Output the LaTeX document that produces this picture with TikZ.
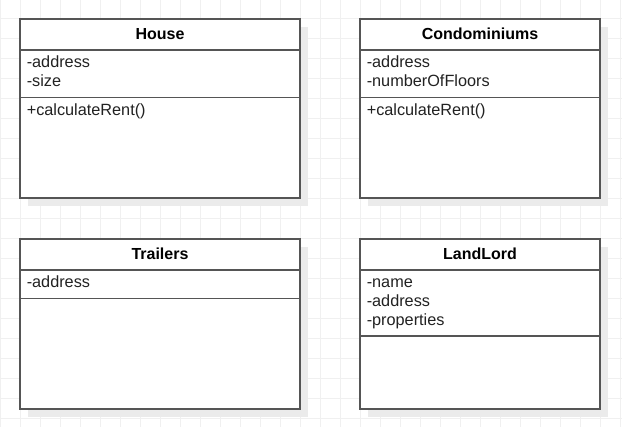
\documentclass[tikz,border=0pt]{standalone}
\usepackage{fontspec}
\setmainfont{Liberation Sans}
\usepackage{tikz}
\usetikzlibrary{positioning}
\usepackage{xcolor}
\definecolor{umlline}{HTML}{555555}
\definecolor{gridgray}{HTML}{F0F0F0}
\definecolor{shadowgray}{HTML}{EBEBEB}
\definecolor{membertext}{HTML}{222222}

\tikzset{
  gridline/.style={gridgray, line width=0.75pt},
  classshadow/.style={fill=shadowgray},
  classbox/.style={draw=umlline, line width=1.1pt, fill=white},
  classrule/.style={draw=umlline, line width=1.1pt},
  classname/.style={anchor=base, inner sep=0pt, font=\bfseries\fontsize{12}{14}\selectfont},
  member/.style={anchor=base west, inner sep=0pt, text=membertext, font=\fontsize{12.2}{14}\selectfont}
}

\begin{document}
\begin{tikzpicture}[x=0.75pt, y=-0.75pt]
\fill[white] (0,0) rectangle (622,427);
\useasboundingbox (0,0) rectangle (622,427);
% grid
\foreach \gx in {0.5,20.5,...,620.5} \draw[gridline] (\gx,0) -- (\gx,427);
\foreach \gy in {19,39,...,419} \draw[gridline] (0,\gy) -- (622,\gy);
% House
\fill[classshadow] (28,27) rectangle (308,206);
\draw[classbox] (20,19) rectangle (300,198);
\draw[classrule] (20,50) -- (300,50);
\draw[classrule] (20,97.5) -- (300,97.5);
\node[classname] (house) at (160,40) {House};
\node[member] (houseAddress) at (26.5,68) {-address};
\node[member] (houseSize) at (26.5,87) {-size};
\node[member] (houseRent) at (26.5,116) {+calculateRent()};
% Condominiums
\fill[classshadow] (368,27) rectangle (608,206);
\draw[classbox] (360,19) rectangle (600,198);
\draw[classrule] (360,50) -- (600,50);
\draw[classrule] (360,97.5) -- (600,97.5);
\node[classname] (condo) at (480,40) {Condominiums};
\node[member] (condoAddress) at (366.5,68) {-address};
\node[member] (condoFloors) at (366.5,87) {-numberOfFloors};
\node[member] (condoRent) at (366.5,116) {+calculateRent()};
% Trailers
\fill[classshadow] (28,247) rectangle (308,417);
\draw[classbox] (20,239) rectangle (300,409);
\draw[classrule] (20,270) -- (300,270);
\draw[classrule] (20,298.5) -- (300,298.5);
\node[classname] (trailers) at (160,260) {Trailers};
\node[member] (trailersAddress) at (26.5,288) {-address};
% LandLord
\fill[classshadow] (368,247) rectangle (608,417);
\draw[classbox] (360,239) rectangle (600,409);
\draw[classrule] (360,270) -- (600,270);
\draw[classrule] (360,336) -- (600,336);
\node[classname] (landlord) at (480,260) {LandLord};
\node[member] (landlordName) at (366.5,288) {-name};
\node[member] (landlordAddress) at (366.5,307) {-address};
\node[member] (landlordProps) at (366.5,326) {-properties};
\end{tikzpicture}
\end{document}
